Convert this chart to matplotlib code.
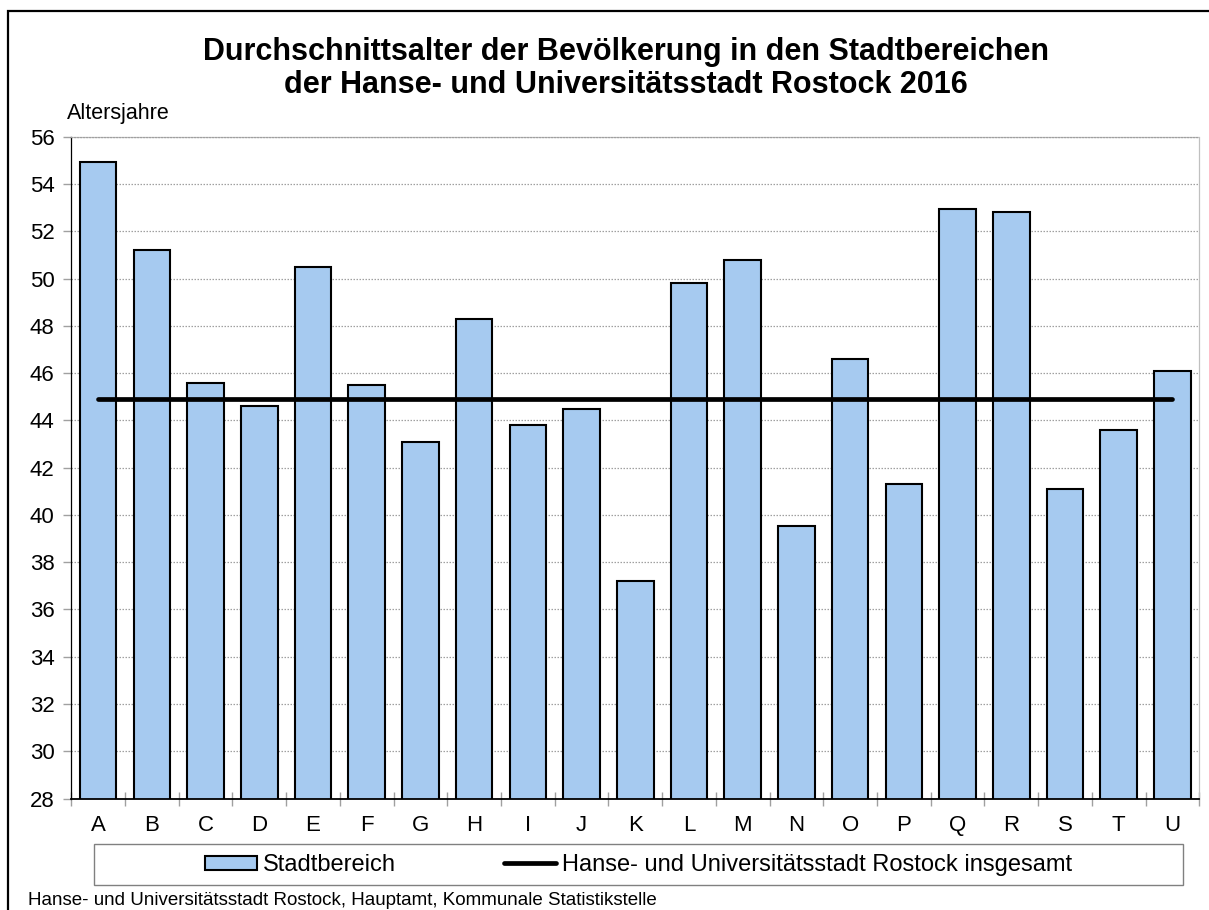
import matplotlib
matplotlib.use("Agg")
import matplotlib.pyplot as plt
from matplotlib.patches import Rectangle, Patch
from matplotlib.lines import Line2D
from matplotlib.ticker import FixedLocator, NullFormatter

plt.rcParams['font.family'] = ['Liberation Sans', 'DejaVu Sans']

categories = ["A", "B", "C", "D", "E", "F", "G", "H", "I", "J", "K",
              "L", "M", "N", "O", "P", "Q", "R", "S", "T", "U"]
stadtbereich = [54.95, 51.2, 45.6, 44.6, 50.5, 45.5, 43.1, 48.3, 43.8, 44.5, 37.2,
                49.8, 50.8, 39.55, 46.6, 41.3, 52.95, 52.8, 41.1, 43.6, 46.1]
rostock_gesamt = [44.9, 44.9, 44.9, 44.9, 44.9, 44.9, 44.9, 44.9, 44.9, 44.9, 44.9,
                  44.9, 44.9, 44.9, 44.9, 44.9, 44.9, 44.9, 44.9, 44.9, 44.9]
y_ticks = [28, 30, 32, 34, 36, 38, 40, 42, 44, 46, 48, 50, 52, 54, 56]

title_lines = ["Durchschnittsalter der Bevölkerung in den Stadtbereichen",
               "der Hanse- und Universitätsstadt Rostock 2016"]
y_label = "Altersjahre"
legend_labels = ["Stadtbereich", "Hanse- und Universitätsstadt Rostock insgesamt"]
source = "Hanse- und Universitätsstadt Rostock, Hauptamt, Kommunale Statistikstelle"

W, H = 1209, 910
fig = plt.figure(figsize=(W / 100, H / 100), dpi=100)
fig.patch.set_facecolor("white")

def fx(px):
    return px / W

def fy(py):
    return 1 - py / H

# outer border (extends past right and bottom edge)
fig.patches.append(Rectangle((fx(8), fy(960)), fx(1300) - fx(8), fy(11) - fy(960),
                             transform=fig.transFigure, fill=False,
                             edgecolor="black", linewidth=1.6, clip_on=False))

left, right, top, bottom = 71.3, 1199.3, 136.7, 798.6
ax = fig.add_axes([fx(left), fy(bottom), fx(right) - fx(left), fy(top) - fy(bottom)])

bar_color = "#A6CAF0"
x = list(range(len(categories)))
ax.bar(x, stadtbereich, width=0.68, color=bar_color, edgecolor="black",
       linewidth=1.5, zorder=2)
ax.plot(x, rostock_gesamt, color="black", linewidth=3.4, solid_capstyle="round", zorder=3)

ax.set_xlim(-0.5, len(categories) - 0.5)
ax.set_ylim(y_ticks[0], y_ticks[-1])
ax.yaxis.set_major_locator(FixedLocator(y_ticks))
ax.set_axisbelow(True)
ax.yaxis.grid(True, linestyle=(0, (1.2, 1.2)), color="#A0A0A0", linewidth=0.9, zorder=0)

ax.set_xticks(x)
ax.set_xticklabels(categories)
ax.xaxis.set_minor_locator(FixedLocator([i - 0.5 for i in range(len(categories) + 1)]))
ax.xaxis.set_minor_formatter(NullFormatter())
ax.tick_params(axis="x", which="major", length=0, pad=12, labelsize=16)
ax.tick_params(axis="x", which="minor", direction="inout", length=10, width=1, color="#A0A0A0")
ax.tick_params(axis="y", which="major", direction="out", length=6, width=1,
               color="#A0A0A0", pad=6, labelsize=16)

ax.spines["left"].set_color("black")
ax.spines["left"].set_linewidth(0.9)
ax.spines["bottom"].set_color("black")
ax.spines["bottom"].set_linewidth(1.3)
ax.spines["right"].set_color("#C0C0C0")
ax.spines["right"].set_linewidth(0.9)
ax.spines["top"].set_color("#A0A0A0")
ax.spines["top"].set_linestyle((0, (1.2, 1.2)))
ax.spines["top"].set_linewidth(0.9)

# titles
fig.text(fx(626), fy(60), title_lines[0], ha="center", va="baseline",
         fontsize=22, fontweight="bold")
fig.text(fx(626), fy(93), title_lines[1], ha="center", va="baseline",
         fontsize=22, fontweight="bold")
fig.text(fx(67), fy(119), y_label, ha="left", va="baseline", fontsize=15.5)

# legend box
fig.patches.append(Rectangle((fx(94), fy(885)), fx(1183) - fx(94), fy(844) - fy(885),
                             transform=fig.transFigure, fill=False,
                             edgecolor="#808080", linewidth=1.0))
handles = [Patch(facecolor=bar_color, edgecolor="black", linewidth=1.5),
           Line2D([0], [0], color="black", linewidth=3.4, solid_capstyle="round")]
fig.legend(handles, legend_labels, loc="center", bbox_to_anchor=(fx(638.5), fy(865)),
           ncol=2, frameon=False, fontsize=17, handlelength=2.2, handleheight=0.55,
           handletextpad=0.25, columnspacing=4.6, borderpad=0, borderaxespad=0)

fig.text(fx(28), fy(905), source, ha="left", va="baseline", fontsize=13.5)

fig.savefig("out.png", dpi=100, facecolor="white")
